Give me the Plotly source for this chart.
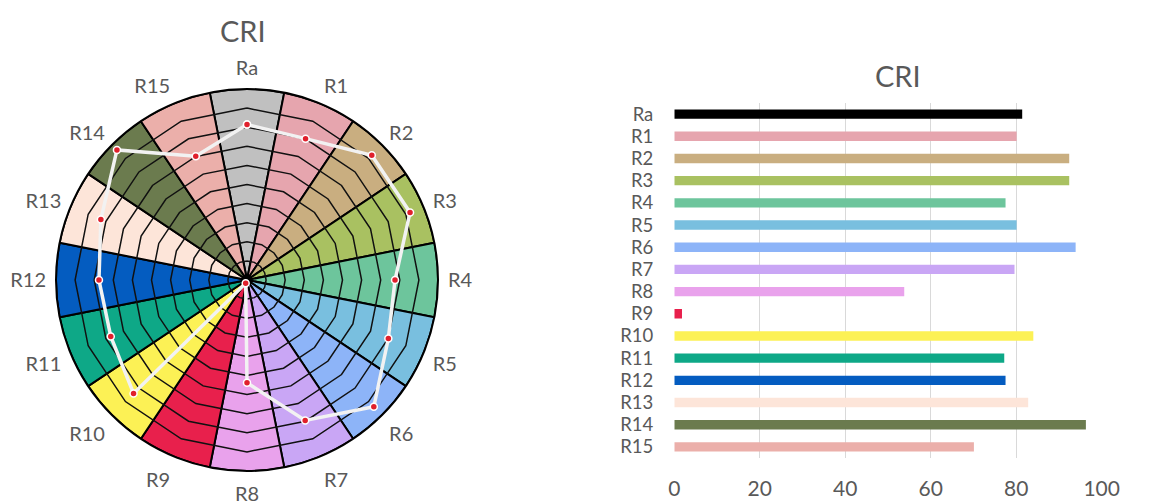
import plotly.graph_objects as go

categories = ["Ra", "R1", "R2", "R3", "R4", "R5", "R6", "R7",
              "R8", "R9", "R10", "R11", "R12", "R13", "R14", "R15"]
cri_values = [81.4, 80.1, 92.4, 92.4, 77.5, 80.1, 93.9, 79.6,
              53.8, 1.8, 84.0, 77.2, 77.5, 82.8, 96.3, 70.1]
sector_colors = ["#C0C0C0", "#E6A5AE", "#C9AE80", "#A9C161", "#6DC59C", "#79BFDF",
                 "#8DB4F8", "#C9A6F5", "#E9A2EC", "#E8204C", "#FCF155", "#0EA887",
                 "#045CC0", "#FDE5D9", "#6B7B4E", "#EBAFAA"]
bar_colors = ["#000000"] + sector_colors[1:]
ring_levels = [10, 20, 30, 40, 50, 60, 70, 80, 90]
full_scale = [100] * len(categories)
x_ticks = [0, 20, 40, 60, 80, 100]

FONT = "Lato"
GRAY = "#595959"
W, H = 1168, 503
OFF = 8  # page body margin of the html page


def px(x):
    return (x - OFF) / W


def py(y):
    return 1 - (y - OFF) / H


fig = go.Figure()

# polar sectors
fig.add_trace(go.Barpolar(
    r=full_scale, theta=categories,
    marker=dict(color=sector_colors, line=dict(color="black", width=2)),
    hoverinfo="skip", showlegend=False, subplot="polar"))

# web rings (polygonal gridlines)
for lvl in ring_levels:
    fig.add_trace(go.Scatterpolar(
        r=[lvl] * (len(categories) + 1), theta=categories + [categories[0]],
        mode="lines", line=dict(color="#111111", width=1.5),
        hoverinfo="skip", showlegend=False, subplot="polar"))

# data line
fig.add_trace(go.Scatterpolar(
    r=cri_values + [cri_values[0]], theta=categories + [categories[0]],
    mode="lines+markers",
    line=dict(color="#F2F2F2", width=3.5),
    marker=dict(color="#E0202C", size=7, line=dict(color="white", width=1.5)),
    showlegend=False, subplot="polar"))

# horizontal bar chart
fig.add_trace(go.Bar(
    x=cri_values, y=categories, orientation="h",
    marker=dict(color=bar_colors, line=dict(width=0)),
    showlegend=False, xaxis="x", yaxis="y"))

cx, cy, rad = 247, 280, 191

fig.update_layout(
    width=W, height=H,
    margin=dict(l=0, r=0, t=0, b=0, autoexpand=False),
    paper_bgcolor="white", plot_bgcolor="white",
    font=dict(family=FONT, color=GRAY),
    polar=dict(
        domain=dict(x=[px(cx - rad), px(cx + rad)], y=[py(cy + rad), py(cy - rad)]),
        bgcolor="white",
        bargap=0,
        angularaxis=dict(
            direction="clockwise", rotation=90,
            showgrid=False, showline=True, linecolor="black", linewidth=2,
            ticks="outside", ticklen=5, tickcolor="rgba(0,0,0,0)",
            tickfont=dict(family=FONT, size=20, color=GRAY)),
        radialaxis=dict(visible=False, range=[0, 100]),
    ),
    xaxis=dict(
        domain=[px(674.3), px(1101.7)], range=[0, 100],
        tickmode="array", tickvals=x_ticks,
        showgrid=True, gridcolor="#D9D9D9", gridwidth=1,
        zeroline=False, showline=False, ticks="", automargin=False,
        tickfont=dict(family=FONT, size=21, color=GRAY),
        ticklabelstandoff=16, anchor="y"),
    yaxis=dict(
        domain=[py(458), py(103)], autorange="reversed",
        tickmode="array", tickvals=categories, ticktext=categories,
        showgrid=False, zeroline=False, showline=False, ticks="", automargin=False,
        tickfont=dict(family=FONT, size=18.5, color=GRAY),
        ticklabelstandoff=20, anchor="x"),
    bargap=0.58,
    annotations=[
        dict(text="CRI", x=px(243), y=py(30), xref="paper", yref="paper",
             xanchor="center", yanchor="middle",
             showarrow=False, font=dict(family=FONT, size=29, color=GRAY)),
        dict(text="CRI", x=px(898), y=py(75), xref="paper", yref="paper",
             xanchor="center", yanchor="middle",
             showarrow=False, font=dict(family=FONT, size=29, color=GRAY)),
    ],
)

fig.write_html("out.html")
